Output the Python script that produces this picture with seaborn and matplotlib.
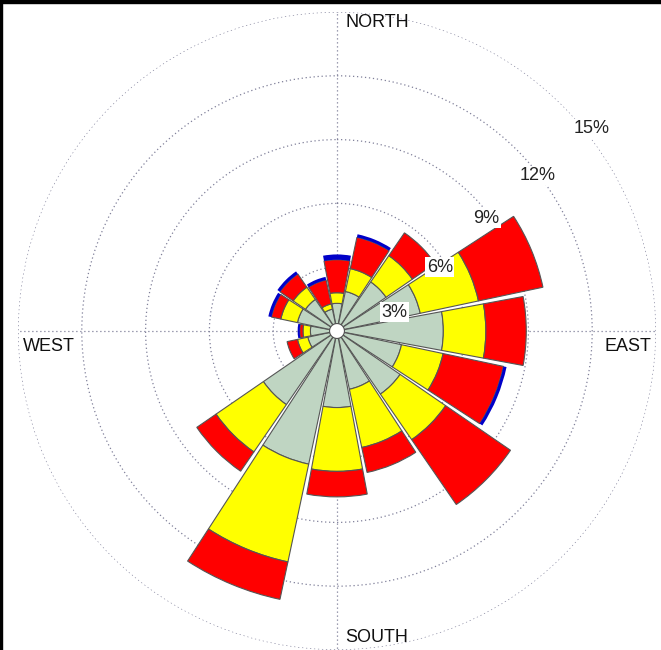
import numpy as np
import pandas as pd
import matplotlib
matplotlib.use("Agg")
import matplotlib.pyplot as plt
import seaborn as sns

# wind directions, clockwise from north
directions = ["N", "NNE", "NE", "ENE", "E", "ESE", "SE", "SSE",
              "S", "SSW", "SW", "WSW", "W", "WNW", "NW", "NNW"]

# frequency (%) of each speed class per direction
class_1 = [1.30, 1.90, 2.80, 4.00, 5.00, 3.10, 3.60, 2.80,
           3.60, 6.40, 4.20, 1.40, 1.25, 1.90, 1.80, 1.05]
class_2 = [0.50, 1.10, 1.50, 2.80, 2.00, 2.00, 2.60, 2.80,
           3.00, 4.70, 2.70, 0.50, 0.35, 0.80, 0.70, 0.25]
class_3 = [1.55, 1.50, 1.30, 3.10, 1.90, 2.90, 3.70, 1.20,
           1.20, 1.80, 1.10, 0.50, 0.15, 0.45, 0.75, 1.15]
class_4 = [0.25, 0.15, 0.00, 0.00, 0.00, 0.15, 0.00, 0.00,
           0.00, 0.00, 0.00, 0.00, 0.10, 0.15, 0.15, 0.15]

ring_values = [3, 6, 9, 12, 15]
ring_labels = ["3%", "6%", "9%", "12%", "15%"]
compass_labels = ["NORTH", "EAST", "SOUTH", "WEST"]

df = pd.DataFrame({
    "direction": directions,
    "c1": class_1, "c2": class_2, "c3": class_3, "c4": class_4,
})
df["angle"] = np.deg2rad(np.arange(len(df)) * 22.5)

sns.set_style("white")
plt.rcParams["font.family"] = ["Liberation Sans", "DejaVu Sans"]

colors = ["#bfd5c2", "#ffff00", "#ff0000", "#0000c8"]
hole = 0.35          # calm circle in the middle
width = np.deg2rad(21)

fig = plt.figure(figsize=(6.61, 6.50), dpi=100)
ax = fig.add_axes([18 / 661, 0.0, 638 / 661, 638 / 650], projection="polar")
ax.set_theta_zero_location("N")
ax.set_theta_direction(-1)

bottom = np.full(len(df), hole)
for col, color in zip(["c1", "c2", "c3", "c4"], colors):
    heights = df[col].to_numpy(dtype=float)
    if col == "c1":
        heights = heights - hole
    keep = heights > 0
    ax.bar(df["angle"][keep], heights[keep], width=width, bottom=bottom[keep],
           color=color, edgecolor="#555555" if col != "c4" else "none",
           linewidth=0.8 if col != "c4" else 0, zorder=3)
    bottom = bottom + heights

# keep the calm circle clean
circ = np.linspace(0, 2 * np.pi, 120)
ax.fill_between(circ, 0, hole, color="white", zorder=2.5)

ax.set_ylim(0, 15)
ax.set_yticks(ring_values)
ax.set_yticklabels([])
ax.set_xticks(np.deg2rad([0, 90, 180, 270]))
ax.set_xticklabels([])
ax.grid(True, color="#80809a", linestyle=(0, (1, 2.2)), linewidth=0.9)
ax.spines["polar"].set_visible(False)
ax.set_facecolor("white")

# radial labels with white boxes
label_angles = [71.9, 58.1, 53.0, 52.2, 51.5]
label_radii = [2.86, 5.69, 8.8, 11.93, 15.28]
for a, r, txt in zip(label_angles, label_radii, ring_labels):
    ax.text(np.deg2rad(a), r, txt, ha="center", va="center", fontsize=13,
            color="#222222", zorder=5,
            bbox=dict(facecolor="white", edgecolor="none", pad=1.0))

# compass labels
compass_pos = [(1.5, 14.5), (93.4, 12.6), (178.5, 14.4), (267.1, 14.8)]
for (a, r), txt in zip(compass_pos, compass_labels):
    ax.text(np.deg2rad(a), r, txt, ha="left", va="center", fontsize=13,
            color="#111111", zorder=5)

# thin dark border at top and left of the original screenshot
fig.add_artist(plt.Rectangle((0, 1 - 3 / 650), 1, 3 / 650,
                             transform=fig.transFigure, color="black"))
fig.add_artist(plt.Rectangle((0, 0), 2 / 661, 1,
                             transform=fig.transFigure, color="black"))

fig.savefig("out.png", dpi=100, facecolor="white")
plt.close(fig)
